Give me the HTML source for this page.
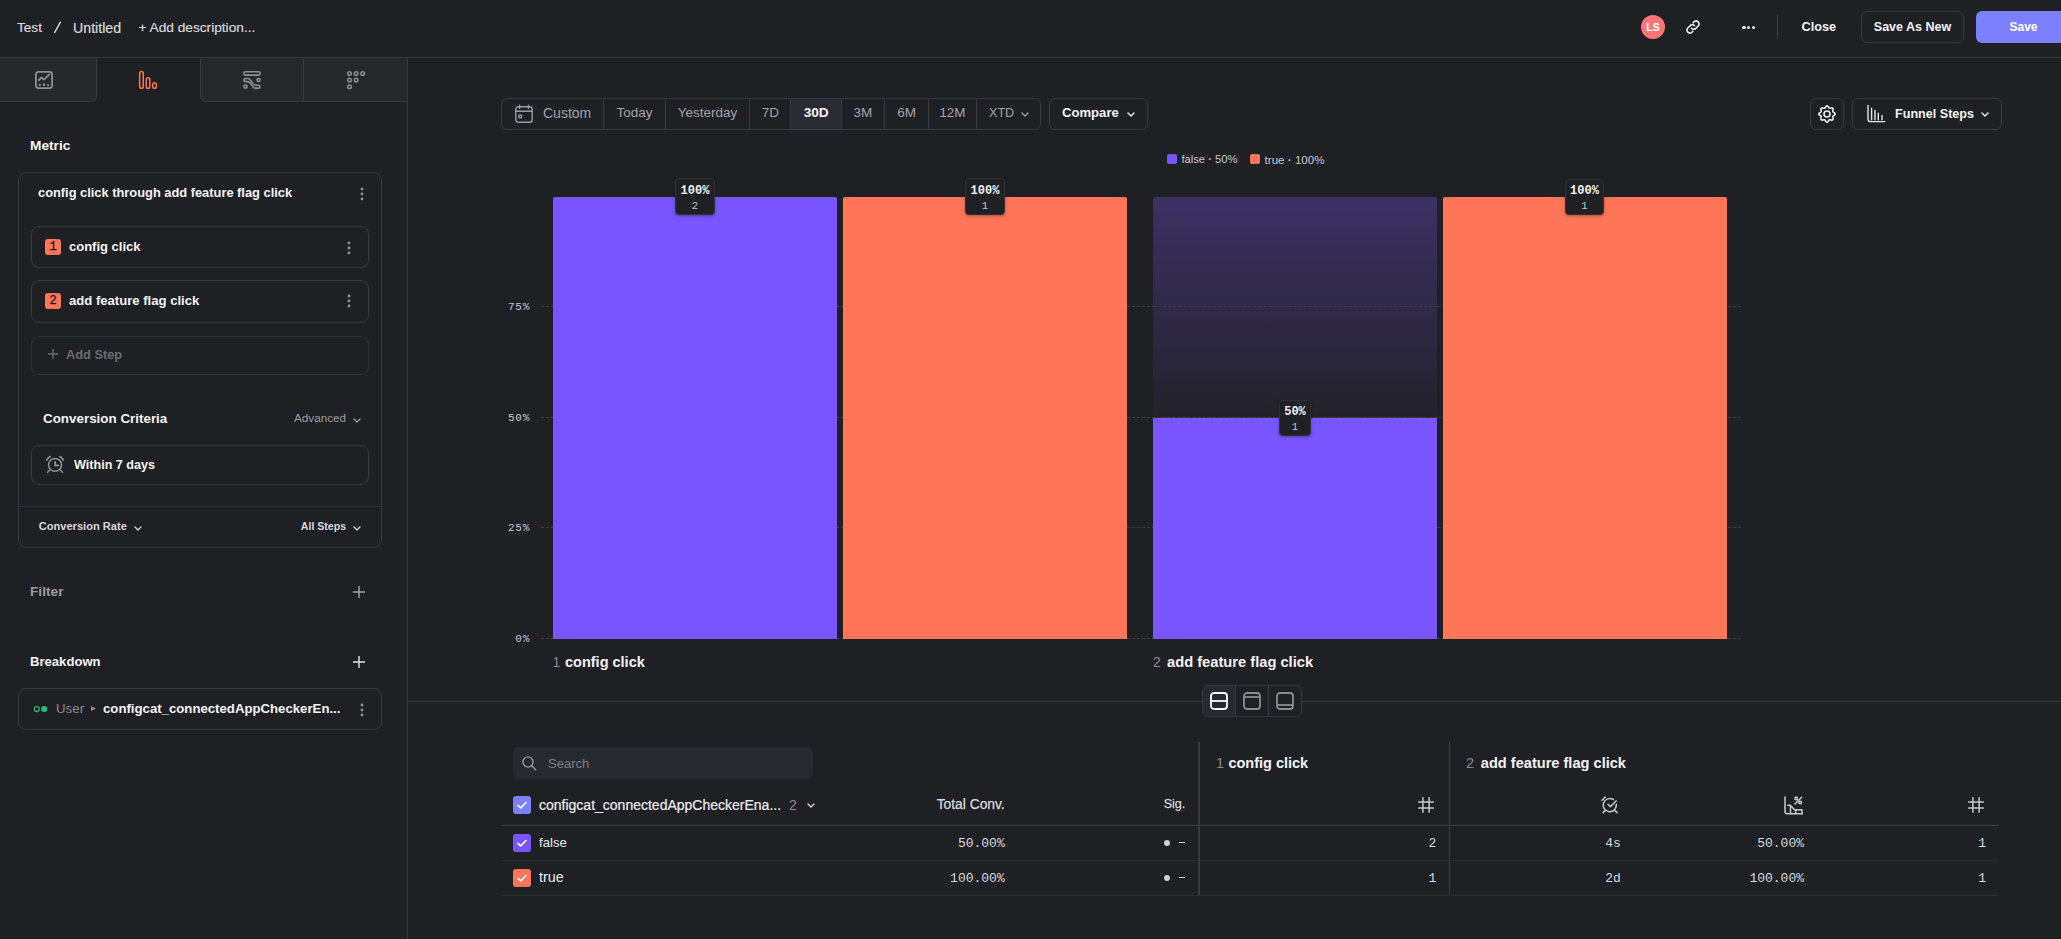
<!DOCTYPE html>
<html><head><meta charset="utf-8">
<style>
*{box-sizing:border-box;margin:0;padding:0}
html,body{width:2061px;height:939px;overflow:hidden;background:#1f2024;font-family:"Liberation Sans",sans-serif;color:#ececef}
.a{position:absolute}
.t{position:absolute;white-space:nowrap;line-height:1}
.b{font-weight:700}
.m{font-family:"Liberation Mono",monospace}
.g{color:#a3a3a9}
.bd{border:1px solid #38393e}
svg{position:absolute;overflow:visible}
</style></head><body>
<!-- HEADER -->
<div class="t" style="left:17px;top:20.8px;font-size:13.6px;color:#d9d9dd;-webkit-text-stroke:0.2px #d9d9dd">Test</div>
<svg style="left:50px;top:18px" width="14" height="18" viewBox="0 0 14 18"><path d="M4.7 14.4L10.4 4.2" stroke="#d9d9dd" stroke-width="1.45" stroke-linecap="round"/></svg>
<div class="t" style="left:73px;top:20.8px;font-size:14.2px;color:#d9d9dd;-webkit-text-stroke:0.2px #d9d9dd">Untitled</div>
<div class="t" style="left:138.5px;top:20.8px;font-size:13.7px;color:#d9d9dd;-webkit-text-stroke:0.2px #d9d9dd">+ Add description...</div>

<div class="a" style="left:1641px;top:15px;width:24px;height:24px;border-radius:50%;background:#ff7577"></div>
<div class="t b" style="left:1641px;top:22px;width:24px;text-align:center;font-size:10.5px;color:#fff">LS</div>
<svg style="left:1685px;top:19px" width="16" height="16" viewBox="0 0 16 16" fill="none" stroke="#e6e6ea" stroke-width="1.6" stroke-linecap="round"><path d="M6.6 9.4a3 3 0 0 0 4.2 0l2.6-2.6a3 3 0 0 0-4.2-4.2l-1 1"/><path d="M9.4 6.6a3 3 0 0 0-4.2 0L2.6 9.2a3 3 0 0 0 4.2 4.2l1-1"/></svg>
<div class="a" style="left:1742px;top:25.5px;width:3.5px;height:3.5px;border-radius:50%;background:#e6e6ea"></div>
<div class="a" style="left:1746.8px;top:25.5px;width:3.5px;height:3.5px;border-radius:50%;background:#e6e6ea"></div>
<div class="a" style="left:1751.6px;top:25.5px;width:3.5px;height:3.5px;border-radius:50%;background:#e6e6ea"></div>
<div class="a" style="left:1777px;top:15px;width:1px;height:24px;background:#38393e"></div>
<div class="t b" style="left:1801.5px;top:20.5px;font-size:12.7px;color:#f4f4f6">Close</div>
<div class="a bd" style="left:1861px;top:11px;width:103px;height:32px;border-radius:6px"></div>
<div class="t b" style="left:1861px;top:20.5px;width:103px;text-align:center;font-size:12.5px;color:#f4f4f6">Save As New</div>
<div class="a" style="left:1976px;top:11px;width:100px;height:32px;border-radius:6px;background:#7c80ff"></div>
<div class="t b" style="left:2009.5px;top:20.5px;font-size:12px;color:#fff">Save</div>
<div class="a" style="left:0;top:57px;width:2061px;height:1px;background:#36373b"></div>

<!-- SIDEBAR TABS -->
<div class="a" style="left:0;top:58px;width:97px;height:44px;background:#27282c;border-right:1px solid #38393e;border-bottom:1px solid #38393e;border-bottom-right-radius:6px"></div>
<div class="a" style="left:200px;top:58px;width:207px;height:44px;background:#27282c;border-left:1px solid #38393e;border-bottom:1px solid #38393e;border-bottom-left-radius:6px"></div>
<div class="a" style="left:303px;top:58px;width:1px;height:43px;background:#38393e"></div>
<div class="a" style="left:407px;top:58px;width:1px;height:881px;background:#36373b"></div>
<!-- tab icons -->
<svg style="left:35px;top:71px" width="18" height="18" viewBox="0 0 18 18" fill="none" stroke="#8e8e93" stroke-width="1.8" stroke-linecap="round" stroke-linejoin="round"><rect x="0.9" y="0.9" width="16.2" height="16.2" rx="2.5"/><path d="M3.6 9.4l2.9-2.9 2.4 2.2 5.5-5.3"/><path d="M4.8 13.9v0.2M9 13.2v0.9M13.1 13.9v0.2" stroke-width="1.9" stroke-linecap="square"/></svg>
<svg style="left:138px;top:70px" width="20" height="20" viewBox="0 0 20 20" fill="none" stroke="#ff7557" stroke-width="1.5"><rect x="1.65" y="1.55" width="3.6" height="16.7" rx="1.8"/><rect x="8.25" y="7.85" width="3.6" height="10.4" rx="1.8"/><rect x="14.75" y="12.75" width="3.6" height="5.5" rx="1.8"/></svg>
<svg style="left:243px;top:71px" width="18" height="18" viewBox="0 0 18 18" fill="none" stroke="#8e8e93" stroke-width="1.6" stroke-linecap="round"><rect x="0.8" y="0.8" width="16.4" height="3.3" rx="1.65"/><circle cx="15.5" cy="9.1" r="1.6"/><circle cx="2.5" cy="15.6" r="1.6"/><path d="M2.4 7.5H5C8 7.5 9.5 14.2 12.5 14.2H15.6A1.45 1.45 0 0 1 15.6 17.1H12C9 17.1 8 10.6 5 10.6H2.4A1.55 1.55 0 0 1 2.4 7.5Z"/></svg>
<svg style="left:346.7px;top:71px" width="20" height="20" viewBox="0 0 20 20" fill="none" stroke="#8e8e93" stroke-width="1.5"><circle cx="2.5" cy="2.5" r="1.8"/><circle cx="9.1" cy="2.5" r="1.8"/><circle cx="15.7" cy="2.5" r="1.8"/><circle cx="2.5" cy="9.1" r="1.8"/><circle cx="9.1" cy="9.1" r="1.8"/><circle cx="2.5" cy="15.7" r="1.8"/></svg>

<!-- METRIC -->
<div class="t b" style="left:30px;top:138.5px;font-size:13.7px;color:#f4f4f6">Metric</div>
<div class="a bd" style="left:18px;top:172px;width:364px;height:376px;border-radius:8px"></div>
<div class="t b" style="left:38px;top:186.6px;font-size:12.85px;color:#f4f4f6">config click through add feature flag click</div>
<svg style="left:360.4px;top:186.5px" width="4" height="14" viewBox="0 0 4 14" fill="#939398"><circle cx="2" cy="2" r="1.4"/><circle cx="2" cy="7" r="1.4"/><circle cx="2" cy="12" r="1.4"/></svg>

<div class="a bd" style="left:31px;top:226px;width:338px;height:42px;border-radius:8px"></div>
<div class="a" style="left:45px;top:239px;width:16px;height:16px;border-radius:3px;background:#ff7557"></div>
<div class="t m" style="left:45.2px;top:240.9px;width:16px;text-align:center;font-size:12px;color:#1f2024;-webkit-text-stroke:0.3px #1f2024">1</div>
<div class="t b" style="left:69px;top:239.5px;font-size:13px;color:#f4f4f6">config click</div>
<svg style="left:347.4px;top:240.5px" width="4" height="14" viewBox="0 0 4 14" fill="#939398"><circle cx="2" cy="2" r="1.4"/><circle cx="2" cy="7" r="1.4"/><circle cx="2" cy="12" r="1.4"/></svg>

<div class="a bd" style="left:31px;top:280px;width:338px;height:43px;border-radius:8px"></div>
<div class="a" style="left:45px;top:293px;width:16px;height:16px;border-radius:3px;background:#ff7557"></div>
<div class="t m" style="left:45.2px;top:294.9px;width:16px;text-align:center;font-size:12px;color:#1f2024;-webkit-text-stroke:0.3px #1f2024">2</div>
<div class="t b" style="left:69px;top:293.5px;font-size:13.1px;color:#f4f4f6">add feature flag click</div>
<svg style="left:347.4px;top:294.4px" width="4" height="14" viewBox="0 0 4 14" fill="#939398"><circle cx="2" cy="2" r="1.4"/><circle cx="2" cy="7" r="1.4"/><circle cx="2" cy="12" r="1.4"/></svg>

<div class="a" style="left:31px;top:336px;width:338px;height:39px;border-radius:8px;border:1px solid #2d2e33"></div>
<svg style="left:48px;top:349px" width="10" height="10" viewBox="0 0 10 10" stroke="#6c6c72" stroke-width="1.4"><path d="M5 0v10M0 5h10"/></svg>
<div class="t b" style="left:66px;top:348.6px;font-size:12.8px;color:#6c6c72">Add Step</div>

<div class="t b" style="left:43px;top:412px;font-size:13.4px;color:#f4f4f6">Conversion Criteria</div>
<div class="t" style="left:294px;top:412px;font-size:11.7px;color:#9b9ba1">Advanced</div>
<svg style="left:353px;top:417.5px" width="8" height="5" viewBox="0 0 8 5" fill="none" stroke="#9b9ba1" stroke-width="1.3" stroke-linecap="round" stroke-linejoin="round"><path d="M1 1l3 3 3-3"/></svg>
<div class="a bd" style="left:31px;top:445px;width:338px;height:40px;border-radius:8px"></div>
<svg style="left:46px;top:456px" width="18" height="18" viewBox="0 0 18 18" fill="none" stroke="#939398" stroke-width="1.5" stroke-linecap="round" stroke-linejoin="round"><circle cx="9.05" cy="8.85" r="6.45"/><path d="M9.2 5.9V9.4H12.2" stroke-width="1.8"/><path d="M0.6 4.2Q1.7 2 4.3 0.5M13.8 0.5Q16.3 2 17.4 4.2M1.7 16.3L3.5 14.1M14.6 14.1L16.4 16.3"/></svg>
<div class="t b" style="left:74px;top:458.6px;font-size:12.6px;color:#f4f4f6">Within 7 days</div>
<div class="a" style="left:19px;top:506px;width:362px;height:1px;background:#2e2f34"></div>
<div class="t b" style="left:38.7px;top:520.8px;font-size:11.1px;color:#d9d9dd">Conversion Rate</div>
<svg style="left:134px;top:525.5px" width="8" height="5" viewBox="0 0 8 5" fill="none" stroke="#d9d9dd" stroke-width="1.3" stroke-linecap="round" stroke-linejoin="round"><path d="M1 1l3 3 3-3"/></svg>
<div class="t b" style="left:300.8px;top:520.8px;font-size:10.6px;color:#d9d9dd">All Steps</div>
<svg style="left:353px;top:525.5px" width="8" height="5" viewBox="0 0 8 5" fill="none" stroke="#d9d9dd" stroke-width="1.3" stroke-linecap="round" stroke-linejoin="round"><path d="M1 1l3 3 3-3"/></svg>

<div class="t b" style="left:30px;top:585px;font-size:13.7px;color:#9b9ba1">Filter</div>
<svg style="left:353px;top:586px" width="12" height="12" viewBox="0 0 12 12" stroke="#a3a3a9" stroke-width="1.4"><path d="M6 0v12M0 6h12"/></svg>
<div class="t b" style="left:30px;top:654.5px;font-size:13.1px;color:#f4f4f6">Breakdown</div>
<svg style="left:353px;top:656px" width="12" height="12" viewBox="0 0 12 12" stroke="#e6e6ea" stroke-width="1.4"><path d="M6 0v12M0 6h12"/></svg>
<div class="a bd" style="left:18px;top:688px;width:364px;height:42px;border-radius:8px"></div>
<svg style="left:33px;top:705px" width="15" height="8" viewBox="0 0 15 8"><circle cx="3.75" cy="4" r="2.55" fill="none" stroke="#2bbd84" stroke-width="1.15"/><circle cx="11.2" cy="4" r="3.05" fill="#2bbd84"/></svg>
<div class="t" style="left:56px;top:701.5px;font-size:13.3px;color:#8a8a90">User</div>
<svg style="left:91.2px;top:706px" width="5" height="5.2" viewBox="0 0 5 5.2" fill="#8a8a90"><path d="M0 0l5 2.6-5 2.6z"/></svg>
<div class="t b" style="left:103px;top:701.5px;font-size:13.2px;color:#f4f4f6">configcat_connectedAppCheckerEn...</div>
<svg style="left:360.2px;top:702.5px" width="4" height="14" viewBox="0 0 4 14" fill="#939398"><circle cx="2" cy="2" r="1.4"/><circle cx="2" cy="7" r="1.4"/><circle cx="2" cy="12" r="1.4"/></svg>

<!-- MAIN -->
<div class="a bd" style="left:501px;top:98px;width:540px;height:32px;border-radius:6px"></div>
<div class="a" style="left:791px;top:99px;width:50px;height:30px;background:#2a2b30"></div>
<div class="a" style="left:603px;top:99px;width:1px;height:30px;background:#38393e"></div>
<div class="a" style="left:665px;top:99px;width:1px;height:30px;background:#38393e"></div>
<div class="a" style="left:749px;top:99px;width:1px;height:30px;background:#38393e"></div>
<div class="a" style="left:790px;top:99px;width:1px;height:30px;background:#38393e"></div>
<div class="a" style="left:841px;top:99px;width:1px;height:30px;background:#38393e"></div>
<div class="a" style="left:884px;top:99px;width:1px;height:30px;background:#38393e"></div>
<div class="a" style="left:928px;top:99px;width:1px;height:30px;background:#38393e"></div>
<div class="a" style="left:976px;top:99px;width:1px;height:30px;background:#38393e"></div>
<svg style="left:515px;top:105px" width="18" height="18" viewBox="0 0 18 18" fill="none" stroke="#9b9ba1" stroke-width="1.4" stroke-linecap="round"><rect x="0.8" y="1.8" width="16.4" height="15.4" rx="2.5"/><path d="M0.8 6.3h16.4M4.6 0.3v3.2M13.4 0.3v3.2"/><rect x="3.9" y="10.3" width="2.6" height="2.6" rx="0.3"/></svg>
<div class="t" style="left:543px;top:105.9px;font-size:14px;color:#a3a3a9">Custom</div>
<div class="t " style="left:574.6px;top:106.4px;width:120px;text-align:center;font-size:13.5px;color:#a3a3a9">Today</div>
<div class="t " style="left:647.5px;top:106.4px;width:120px;text-align:center;font-size:13.5px;color:#a3a3a9">Yesterday</div>
<div class="t " style="left:710.4px;top:106.4px;width:120px;text-align:center;font-size:13.5px;color:#a3a3a9">7D</div>
<div class="t b" style="left:756.2px;top:106.4px;width:120px;text-align:center;font-size:13.7px;color:#f4f4f6">30D</div>
<div class="t " style="left:803.0px;top:106.4px;width:120px;text-align:center;font-size:13.5px;color:#a3a3a9">3M</div>
<div class="t " style="left:846.6px;top:106.4px;width:120px;text-align:center;font-size:13.5px;color:#a3a3a9">6M</div>
<div class="t " style="left:892.3px;top:106.4px;width:120px;text-align:center;font-size:13.5px;color:#a3a3a9">12M</div>
<div class="t" style="left:989px;top:107.3px;font-size:12.6px;color:#a3a3a9">XTD</div>
<svg style="left:1021px;top:112px" width="8" height="5" viewBox="0 0 8 5" fill="none" stroke="#a3a3a9" stroke-width="1.3" stroke-linecap="round" stroke-linejoin="round"><path d="M1 1l3 3 3-3"/></svg>
<div class="a bd" style="left:1049px;top:98px;width:99px;height:32px;border-radius:6px"></div>
<div class="t b" style="left:1062px;top:106.4px;font-size:13.1px;color:#f4f4f6">Compare</div>
<svg style="left:1127px;top:112px" width="8" height="5" viewBox="0 0 8 5" fill="none" stroke="#f4f4f6" stroke-width="1.4" stroke-linecap="round" stroke-linejoin="round"><path d="M1 1l3 3 3-3"/></svg>
<div class="a bd" style="left:1810px;top:98px;width:34px;height:32px;border-radius:6px"></div>
<svg style="left:1818px;top:105px" width="18" height="18" viewBox="0 0 18 18" fill="none" stroke="#ececef" stroke-width="1.6" stroke-linejoin="round"><path d="M9.00 0.85 L9.52 0.99 L10.00 1.39 L10.40 1.94 L10.74 2.50 L11.05 2.96 L11.39 3.23 L11.82 3.28 L12.36 3.18 L13.00 3.01 L13.67 2.91 L14.29 2.97 L14.76 3.24 L15.03 3.71 L15.09 4.33 L14.99 5.00 L14.82 5.64 L14.72 6.18 L14.77 6.61 L15.04 6.95 L15.50 7.26 L16.06 7.60 L16.61 8.00 L17.01 8.48 L17.15 9.00 L17.01 9.52 L16.61 10.00 L16.06 10.40 L15.50 10.74 L15.04 11.05 L14.77 11.39 L14.72 11.82 L14.82 12.36 L14.99 13.00 L15.09 13.67 L15.03 14.29 L14.76 14.76 L14.29 15.03 L13.67 15.09 L13.00 14.99 L12.36 14.82 L11.82 14.72 L11.39 14.77 L11.05 15.04 L10.74 15.50 L10.40 16.06 L10.00 16.61 L9.52 17.01 L9.00 17.15 L8.48 17.01 L8.00 16.61 L7.60 16.06 L7.26 15.50 L6.95 15.04 L6.61 14.77 L6.18 14.72 L5.64 14.82 L5.00 14.99 L4.33 15.09 L3.71 15.03 L3.24 14.76 L2.97 14.29 L2.91 13.67 L3.01 13.00 L3.18 12.36 L3.28 11.82 L3.23 11.39 L2.96 11.05 L2.50 10.74 L1.94 10.40 L1.39 10.00 L0.99 9.52 L0.85 9.00 L0.99 8.48 L1.39 8.00 L1.94 7.60 L2.50 7.26 L2.96 6.95 L3.23 6.61 L3.28 6.18 L3.18 5.64 L3.01 5.00 L2.91 4.33 L2.97 3.71 L3.24 3.24 L3.71 2.97 L4.33 2.91 L5.00 3.01 L5.64 3.18 L6.18 3.28 L6.61 3.23 L6.95 2.96 L7.26 2.50 L7.60 1.94 L8.00 1.39 L8.48 0.99Z"/><circle cx="9" cy="9" r="3"/></svg>
<div class="a bd" style="left:1852px;top:98px;width:150px;height:32px;border-radius:6px"></div>
<svg style="left:1867px;top:105px" width="19" height="18" viewBox="0 0 19 18" fill="none" stroke="#e6e6ea" stroke-width="1.4" stroke-linecap="round"><path d="M1 0.5v13.7a2.4 2.4 0 0 0 2.4 2.4h14.4"/><path d="M4.6 3.2v11.6M8 5.4v9.4M11.3 8.3v6.5M15 10.5v4.3"/></svg>
<div class="t b" style="left:1895px;top:107.5px;font-size:12.6px;color:#f4f4f6">Funnel Steps</div>
<svg style="left:1981px;top:112px" width="8" height="5" viewBox="0 0 8 5" fill="none" stroke="#f4f4f6" stroke-width="1.4" stroke-linecap="round" stroke-linejoin="round"><path d="M1 1l3 3 3-3"/></svg>
<div class="a" style="left:1167px;top:154px;width:10px;height:10px;border-radius:2px;background:#7856ff"></div>
<div class="t" style="left:1181.4px;top:154.1px;font-size:11.2px;color:#c8c8cd">false <b>·</b> 50%</div>
<div class="a" style="left:1250px;top:154px;width:10px;height:10px;border-radius:2px;background:#ff7557"></div>
<div class="t" style="left:1264.6px;top:154.1px;font-size:11.6px;color:#c8c8cd">true <b>·</b> 100%</div>
<div class="a" style="left:541px;top:306px;width:1200px;height:0;border-top:1px dashed #3c3d42"></div>
<div class="a" style="left:541px;top:417px;width:1200px;height:0;border-top:1px dashed #3c3d42"></div>
<div class="a" style="left:541px;top:527px;width:1200px;height:0;border-top:1px dashed #3c3d42"></div>
<div class="a" style="left:541px;top:638px;width:1200px;height:0;border-top:1px dashed #3c3d42"></div>
<div class="t m" style="left:470px;width:60.1px;text-align:right;top:301.6px;font-size:11px;letter-spacing:0.8px;color:#c8c8cd">75%</div>
<div class="t m" style="left:470px;width:60.1px;text-align:right;top:412.6px;font-size:11px;letter-spacing:0.8px;color:#c8c8cd">50%</div>
<div class="t m" style="left:470px;width:60.1px;text-align:right;top:522.6px;font-size:11px;letter-spacing:0.8px;color:#c8c8cd">25%</div>
<div class="t m" style="left:470px;width:60.1px;text-align:right;top:633.6px;font-size:11px;letter-spacing:0.8px;color:#c8c8cd">0%</div>
<div class="a" style="left:553px;top:197px;width:284px;height:442px;background:#7856ff;border-radius:2px 2px 0 0"></div>
<div class="a" style="left:843px;top:197px;width:284px;height:442px;background:#ff7557;border-radius:2px 2px 0 0"></div>
<div class="a" style="left:1153px;top:197px;width:284px;height:220px;background:linear-gradient(#3b3164,#232229);border-radius:2px 2px 0 0"></div>
<div class="a" style="left:1153px;top:418px;width:284px;height:221px;background:#7856ff"></div>
<div class="a" style="left:1153px;top:306px;width:284px;height:0;border-top:1px dashed #3c3d42"></div>
<div class="a" style="left:1153px;top:417px;width:284px;height:0;border-top:1px dashed #3c3d42"></div>
<div class="a" style="left:1443px;top:197px;width:284px;height:442px;background:#ff7557;border-radius:2px 2px 0 0"></div>
<div class="a" style="left:675px;top:178px;width:40px;height:37px;border-radius:4px;background:#1f2024;border:1px solid #313237;box-shadow:0 1px 3px rgba(0,0,0,.35)"></div>
<div class="t m b" style="left:675px;top:184.7px;width:40px;text-align:center;font-size:12px;color:#f4f4f6">100%</div>
<div class="t m" style="left:675px;top:200.7px;width:40px;text-align:center;font-size:10.5px;color:#c8c8cd">2</div>
<div class="a" style="left:965px;top:178px;width:40px;height:37px;border-radius:4px;background:#1f2024;border:1px solid #313237;box-shadow:0 1px 3px rgba(0,0,0,.35)"></div>
<div class="t m b" style="left:965px;top:184.7px;width:40px;text-align:center;font-size:12px;color:#f4f4f6">100%</div>
<div class="t m" style="left:965px;top:200.7px;width:40px;text-align:center;font-size:10.5px;color:#c8c8cd">1</div>
<div class="a" style="left:1279px;top:399.5px;width:32px;height:36.5px;border-radius:4px;background:#1f2024;border:1px solid #313237;box-shadow:0 1px 3px rgba(0,0,0,.35)"></div>
<div class="t m b" style="left:1279px;top:406.2px;width:32px;text-align:center;font-size:12px;color:#f4f4f6">50%</div>
<div class="t m" style="left:1279px;top:422.2px;width:32px;text-align:center;font-size:10.5px;color:#c8c8cd">1</div>
<div class="a" style="left:1565px;top:178.5px;width:39px;height:36.5px;border-radius:4px;background:#1f2024;border:1px solid #313237;box-shadow:0 1px 3px rgba(0,0,0,.35)"></div>
<div class="t m b" style="left:1565px;top:185.2px;width:39px;text-align:center;font-size:12px;color:#f4f4f6">100%</div>
<div class="t m" style="left:1565px;top:201.2px;width:39px;text-align:center;font-size:10.5px;color:#c8c8cd">1</div>
<div class="t" style="left:552.6px;top:655px;font-size:14px;color:#8a8a90">1</div>
<div class="t b" style="left:565px;top:654.8px;font-size:14.5px;color:#f4f4f6">config click</div>
<div class="t" style="left:1153px;top:655px;font-size:14px;color:#8a8a90">2</div>
<div class="t b" style="left:1167px;top:654.8px;font-size:14.7px;color:#f4f4f6">add feature flag click</div>
<div class="a" style="left:408px;top:701px;width:1653px;height:1px;background:#36373b"></div>
<div class="a bd" style="left:1202px;top:685px;width:100px;height:32px;border-radius:6px;background:#1f2024"></div>
<div class="a" style="left:1203px;top:686px;width:32.5px;height:30px;border-radius:5px 0 0 5px;background:#28292e"></div>
<div class="a" style="left:1235px;top:686px;width:1px;height:30px;background:#38393e"></div>
<div class="a" style="left:1268px;top:686px;width:1px;height:30px;background:#38393e"></div>
<svg style="left:1210px;top:692px" width="18" height="18" viewBox="0 0 18 18" fill="none" stroke="#f4f4f6" stroke-width="1.9"><rect x="1" y="1" width="16" height="16" rx="3"/><path d="M1 9h16"/></svg>
<svg style="left:1243px;top:692px" width="18" height="18" viewBox="0 0 18 18" fill="none" stroke="#8c8c91" stroke-width="1.8"><rect x="1" y="1" width="16" height="16" rx="3"/><path d="M1 5h16"/></svg>
<svg style="left:1276px;top:692px" width="18" height="18" viewBox="0 0 18 18" fill="none" stroke="#8c8c91" stroke-width="1.8"><rect x="1" y="1" width="16" height="16" rx="3"/><path d="M1 13h16"/></svg>
<!-- TABLE -->
<div class="a" style="left:513px;top:747px;width:300px;height:32px;border-radius:6px;background:#28292e"></div>
<svg style="left:521.6px;top:755.6px" width="15" height="15" viewBox="0 0 15 15" fill="none" stroke="#9b9ba1" stroke-width="1.4" stroke-linecap="round"><circle cx="6" cy="6" r="5.1"/><path d="M9.8 9.8l3.9 3.9"/></svg>
<div class="t" style="left:548px;top:757.0px;font-size:13px;color:#7f7f85">Search</div>
<div class="a" style="left:513px;top:796px;width:18px;height:18px;border-radius:3px;background:#7c80ff"></div>
<svg style="left:513px;top:796px" width="18" height="18" viewBox="0 0 18 18" fill="none" stroke="#fff" stroke-width="1.6" stroke-linecap="round" stroke-linejoin="round"><path d="M5 9.3l2.7 2.6 5.3-5.4"/></svg>
<div class="t" style="left:539px;top:798.1px;font-size:14px;color:#ececef;-webkit-text-stroke:0.2px #ececef">configcat_connectedAppCheckerEna...</div>
<div class="t" style="left:789px;top:798.1px;font-size:14px;color:#8a8a90">2</div>
<svg style="left:806.5px;top:803px" width="8" height="5" viewBox="0 0 8 5" fill="none" stroke="#d9d9dd" stroke-width="1.4" stroke-linecap="round" stroke-linejoin="round"><path d="M1 1l3 3 3-3"/></svg>
<div class="t" style="left:880px;width:124.7px;text-align:right;top:798.2px;font-size:13.8px;color:#d9d9dd;-webkit-text-stroke:0.25px #d9d9dd">Total Conv.</div>
<div class="t" style="left:1100px;width:85.2px;text-align:right;top:798.4px;font-size:12.5px;color:#d9d9dd;-webkit-text-stroke:0.25px #d9d9dd">Sig.</div>
<div class="a" style="left:501px;top:825px;width:1498px;height:1px;background:#3a3b40"></div>
<div class="a" style="left:501px;top:860px;width:1498px;height:1px;background:#2c2d32"></div>
<div class="a" style="left:501px;top:895px;width:1498px;height:1px;background:#2c2d32"></div>
<div class="a" style="left:1198px;top:742px;width:2px;height:153px;background:#3a3b3f"></div>
<div class="a" style="left:1449px;top:742px;width:1px;height:153px;background:#3a3b3f"></div>
<div class="a" style="left:513px;top:834px;width:18px;height:18px;border-radius:3px;background:#7856ff"></div>
<svg style="left:513px;top:834px" width="18" height="18" viewBox="0 0 18 18" fill="none" stroke="#fff" stroke-width="1.6" stroke-linecap="round" stroke-linejoin="round"><path d="M5 9.3l2.7 2.6 5.3-5.4"/></svg>
<div class="a" style="left:513px;top:869px;width:18px;height:18px;border-radius:3px;background:#ff7557"></div>
<svg style="left:513px;top:869px" width="18" height="18" viewBox="0 0 18 18" fill="none" stroke="#fff" stroke-width="1.6" stroke-linecap="round" stroke-linejoin="round"><path d="M5 9.3l2.7 2.6 5.3-5.4"/></svg>
<div class="t" style="left:539px;top:835.8px;font-size:13.2px;color:#ececef">false</div>
<div class="t" style="left:539px;top:869.9px;font-size:14.3px;color:#ececef">true</div>
<div class="t m" style="left:804.7px;width:200px;text-align:right;top:837.0px;font-size:13px;color:#d9d9dd">50.00%</div>
<div class="t m" style="left:804.7px;width:200px;text-align:right;top:872.0px;font-size:13px;color:#d9d9dd">100.00%</div>
<div class="a" style="left:1164px;top:839.9px;width:6.2px;height:6.2px;border-radius:50%;background:#d0d0d4"></div>
<div class="a" style="left:1179px;top:842.4px;width:6px;height:1px;background:#d0d0d4"></div>
<div class="a" style="left:1164px;top:874.9px;width:6.2px;height:6.2px;border-radius:50%;background:#d0d0d4"></div>
<div class="a" style="left:1179px;top:877.4px;width:6px;height:1px;background:#d0d0d4"></div>
<div class="t" style="left:1216px;top:755.7px;font-size:14.5px;color:#8a8a90">1</div>
<div class="t b" style="left:1228.4px;top:755.7px;font-size:14.5px;color:#f4f4f6">config click</div>
<div class="t" style="left:1466px;top:755.7px;font-size:14.5px;color:#8a8a90">2</div>
<div class="t b" style="left:1480.8px;top:755.6px;font-size:14.6px;color:#f4f4f6">add feature flag click</div>
<svg style="left:1418px;top:797px" width="16" height="16" viewBox="0 0 16 16" fill="none" stroke="#c9c9cd" stroke-width="1.5" stroke-linecap="round"><path d="M4.9 0.7v14.6M11.1 0.7v14.6M0.7 5h14.6M0.7 11h14.6"/></svg>
<svg style="left:1968px;top:797px" width="16" height="16" viewBox="0 0 16 16" fill="none" stroke="#c9c9cd" stroke-width="1.5" stroke-linecap="round"><path d="M4.9 0.7v14.6M11.1 0.7v14.6M0.7 5h14.6M0.7 11h14.6"/></svg>
<svg style="left:1600.5px;top:795.5px" width="18" height="18" viewBox="0 0 18 18" fill="none" stroke="#c9c9cd" stroke-width="1.5" stroke-linecap="round" stroke-linejoin="round"><path d="M15.3 8.2A6.6 6.6 0 1 1 12.3 3.5"/><path d="M1 4.2L4.3 1"/><path d="M7 8.3l2.3 2.4 5.9-6"/><path d="M2.2 16.6l2-2M16 16.6l-2-2"/></svg>
<svg style="left:1783.5px;top:795.5px" width="19" height="19" viewBox="0 0 19 19" fill="none" stroke="#c9c9cd" stroke-width="1.5" stroke-linecap="round" stroke-linejoin="round"><path d="M1 1v14.5c0 1.3 1 2.2 2.2 2.2H18.3"/><path d="M3.8 9.2h2.4l4.4 4.6h7.4v3.9"/><path d="M6.5 9.4v8.1M11.7 14v3.7"/><path d="M11 8L17.7 1.2"/><circle cx="12.2" cy="2.4" r="1.3"/><circle cx="16.2" cy="6.5" r="1.3"/></svg>
<div class="t m" style="left:1236.4px;width:200px;text-align:right;top:837.0px;font-size:13px;color:#d9d9dd">2</div>
<div class="t m" style="left:1236.4px;width:200px;text-align:right;top:872.0px;font-size:13px;color:#d9d9dd">1</div>
<div class="t m" style="left:1563px;width:100px;text-align:center;top:837.0px;font-size:13px;color:#d9d9dd">4s</div>
<div class="t m" style="left:1563px;width:100px;text-align:center;top:872.0px;font-size:13px;color:#d9d9dd">2d</div>
<div class="t m" style="left:1604px;width:200px;text-align:right;top:837.0px;font-size:13px;color:#d9d9dd">50.00%</div>
<div class="t m" style="left:1604px;width:200px;text-align:right;top:872.0px;font-size:13px;color:#d9d9dd">100.00%</div>
<div class="t m" style="left:1786px;width:200px;text-align:right;top:837.0px;font-size:13px;color:#d9d9dd">1</div>
<div class="t m" style="left:1786px;width:200px;text-align:right;top:872.0px;font-size:13px;color:#d9d9dd">1</div>

</body></html>
